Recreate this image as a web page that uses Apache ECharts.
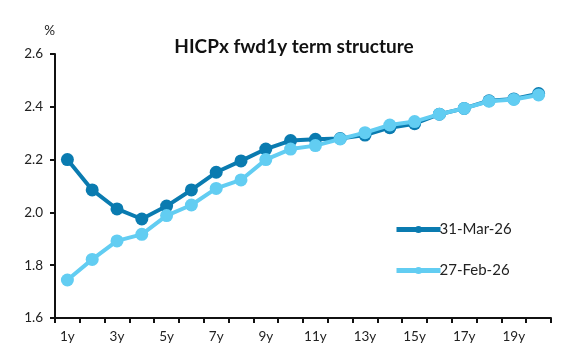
<!DOCTYPE html>
<html><head><meta charset="utf-8">
<script src="https://cdn.jsdelivr.net/npm/echarts@6/dist/echarts.min.js"></script>
<style>html,body{margin:0;padding:0;background:#fff}#c{width:571px;height:364px}</style>
</head><body><div id="c"></div>
<script>
var categories = ['1y','2y','3y','4y','5y','6y','7y','8y','9y','10y','11y','12y','13y','14y','15y','16y','17y','18y','19y','20y'];
var mar26 = [2.20,2.085,2.013,1.975,2.024,2.085,2.152,2.195,2.24,2.272,2.277,2.28,2.293,2.321,2.336,2.372,2.394,2.423,2.43,2.45];
var feb26 = [1.744,1.822,1.892,1.917,1.988,2.028,2.091,2.123,2.20,2.24,2.253,2.278,2.302,2.331,2.344,2.372,2.394,2.421,2.428,2.445];
var seriesNames = ['31-Mar-26','27-Feb-26'];
var yTicks = {min:1.6, max:2.6, interval:0.2};

var dark = '#0a7bb0', light = '#62cdf2';
var font = 'Lato, "Open Sans", sans-serif';
var chart = echarts.init(document.getElementById('c'));
chart.setOption({
  animation:false,
  title:{text:'HICPx fwd1y term structure', left:289, top:32, textAlign:'center',
    textStyle:{fontFamily:font, fontSize:19, fontWeight:'bold', color:'#111'}},
  grid:{left:55, right:20, top:54, bottom:46},
  legend:{orient:'vertical', left:389, top:217, itemGap:26, itemWidth:44, itemHeight:9,
    lineStyle:{width:5},
    textStyle:{fontFamily:font, fontSize:15, color:'#222', padding:[0,0,0,-6]},
    data:seriesNames},
  xAxis:{type:'category', data:categories, boundaryGap:true,
    axisLine:{lineStyle:{color:'#111', width:2}},
    axisTick:{show:true, interval:0, length:5, lineStyle:{color:'#111', width:2}},
    axisLabel:{interval:1, fontFamily:font, fontSize:13.5, color:'#222', margin:12}},
  yAxis:{type:'value', min:yTicks.min, max:yTicks.max, interval:yTicks.interval,
    name:'%', nameLocation:'end', nameGap:16, nameTextStyle:{fontFamily:font, fontSize:13.5, color:'#222', align:'right'},
    axisLine:{show:true, lineStyle:{color:'#111', width:2}},
    axisTick:{show:true, length:5, lineStyle:{color:'#111', width:2}},
    splitLine:{show:false},
    axisLabel:{fontFamily:font, fontSize:13.5, color:'#222', margin:12, formatter:function(v){return v.toFixed(1);}}},
  series:[
    {name:seriesNames[0], type:'line', data:mar26, symbol:'circle', symbolSize:13,
      itemStyle:{color:dark}, lineStyle:{color:dark, width:4}, z:2},
    {name:seriesNames[1], type:'line', data:feb26, symbol:'circle', symbolSize:13,
      itemStyle:{color:light}, lineStyle:{color:light, width:4}, z:3}
  ]
});
</script></body></html>
